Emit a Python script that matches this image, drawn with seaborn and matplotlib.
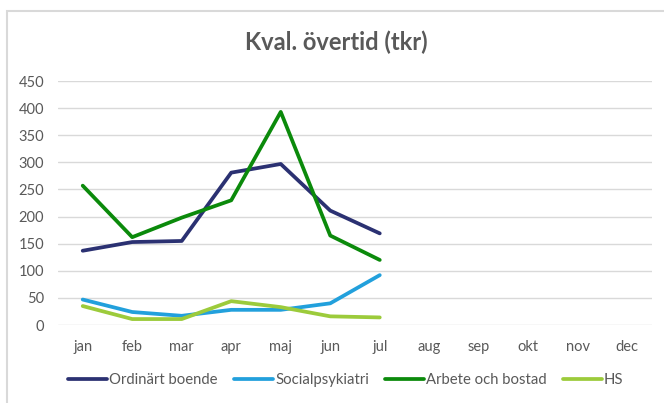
import matplotlib
matplotlib.use('Agg')
import matplotlib.pyplot as plt
import seaborn as sns
import pandas as pd
from matplotlib.patches import Rectangle

months = ['jan', 'feb', 'mar', 'apr', 'maj', 'jun', 'jul',
          'aug', 'sep', 'okt', 'nov', 'dec']
series_names = ['Ordinärt boende', 'Socialpsykiatri', 'Arbete och bostad', 'HS']
ordinart = [137, 153, 155, 281, 297, 211, 169]
socialpsyk = [47, 24, 17, 28, 28, 40, 92]
arbete = [257, 162, 198, 230, 393, 165, 120]
hs = [35, 11, 11, 44, 33, 16, 14]
colors = ['#2B3172', '#22A0DC', '#0B8A0B', '#9CCB3B']
yticks = [0, 50, 100, 150, 200, 250, 300, 350, 400, 450]

rows = []
for name, vals in zip(series_names, [ordinart, socialpsyk, arbete, hs]):
    for i, v in enumerate(vals):
        rows.append({'pos': i, 'value': v, 'serie': name})
df = pd.DataFrame(rows)

sns.set_theme(style='white')
plt.rcParams['font.family'] = ['Lato', 'DejaVu Sans']
txt = '#595959'

fig = plt.figure(figsize=(6.64, 4.03), dpi=100)
ax = fig.add_axes([0.0873, 0.1935, 0.8947, 0.6055])

sns.lineplot(data=df, x='pos', y='value', hue='serie', hue_order=series_names,
             palette=colors, linewidth=2.7, ax=ax, legend=True)

ax.set_xlim(-0.5, 11.5)
ax.set_ylim(0, 450)
ax.set_xticks(range(12))
ax.set_xticklabels(months)
ax.set_yticks(yticks)
ax.set_xlabel('')
ax.set_ylabel('')
ax.grid(axis='y', color='#D9D9D9', linewidth=1)
ax.set_axisbelow(True)
for s in ax.spines.values():
    s.set_visible(False)
ax.tick_params(axis='both', length=0, labelsize=10.5, colors=txt)
ax.tick_params(axis='y', pad=10)
ax.tick_params(axis='x', pad=11)

ax.legend(loc='center', bbox_to_anchor=(0.521, 0.0565), bbox_transform=fig.transFigure,
          ncol=4, frameon=False, fontsize=10.7, handlelength=2.6, handletextpad=0.15,
          columnspacing=1.1, labelcolor=txt)

fig.text(0.507, 0.895, 'Kval. övertid (tkr)', ha='center', va='center',
         fontsize=17, fontweight='bold', color=txt)

# chart area border (Excel style)
fig.patches.append(Rectangle((6.5 / 664, -0.1), 1.2, 1 - 10.5 / 403 + 0.1,
                             transform=fig.transFigure, fill=False,
                             edgecolor='#D9D9D9', linewidth=1.5))

fig.savefig('out.png', dpi=100)
